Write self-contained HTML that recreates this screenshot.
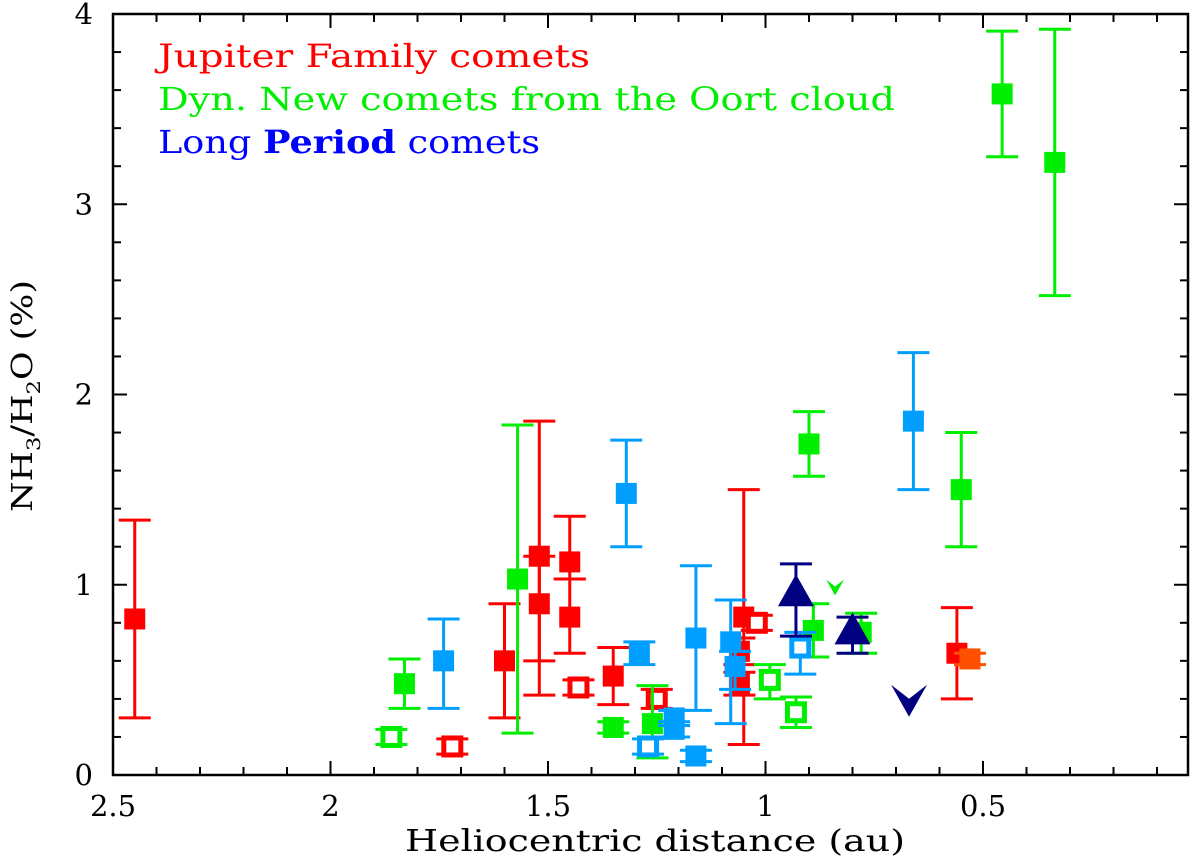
<!DOCTYPE html>
<html><head><meta charset="utf-8"><style>
html,body{margin:0;padding:0;background:#fff;}
svg{display:block;font-family:"DejaVu Serif","Liberation Serif",serif;}
</style></head><body>
<svg id="chart" width="1200" height="861" viewBox="0 0 1200 861" xmlns="http://www.w3.org/2000/svg">
<g id="marks"></g>
<rect x="113" y="14" width="1075" height="761" fill="none" stroke="#000" stroke-width="2.5"/>
<g id="ticks"></g>
<text x="405" y="851" font-size="30" textLength="500" lengthAdjust="spacingAndGlyphs">Heliocentric distance (au)</text>
<text transform="translate(32,512) rotate(-90)" font-size="29" textLength="232" lengthAdjust="spacingAndGlyphs">NH<tspan font-size="19" dy="8">3</tspan><tspan dy="-8">/H</tspan><tspan font-size="19" dy="8">2</tspan><tspan dy="-8">O (%)</tspan></text>
<text x="158" y="67" font-size="32" fill="#ff0000" textLength="432" lengthAdjust="spacingAndGlyphs">Jupiter Family comets</text>
<text x="158" y="110" font-size="32" fill="#00ee00" textLength="737" lengthAdjust="spacingAndGlyphs">Dyn. New comets from the Oort cloud</text>
<text x="158" y="153" font-size="32" fill="#0000ff" textLength="382" lengthAdjust="spacingAndGlyphs">Long <tspan font-weight="bold">Period</tspan> comets</text>
</svg>
<script>
// x: heliocentric distance (au), y: NH3/H2O (%), lo/hi: error bar ends
const redFilledX=[2.45,1.60,1.52,1.52,1.45,1.45,1.35,1.05,1.06,1.06,0.56];
const redFilledY=[0.82,0.60,1.15,0.90,1.12,0.83,0.52,0.83,0.65,0.48,0.64];
const redFilledLo=[0.30,0.30,0.60,0.42,1.03,0.64,0.37,0.16,0.58,0.42,0.40];
const redFilledHi=[1.34,0.90,1.86,1.15,1.36,1.03,0.67,1.50,0.72,0.54,0.88];
const orangeX=[0.53];const orangeY=[0.61];const orangeLo=[0.58];const orangeHi=[0.64];
const redOpenX=[1.72,1.43,1.25,1.02];
const redOpenY=[0.15,0.46,0.40,0.80];
const redOpenLo=[0.11,0.42,0.35,0.76];
const redOpenHi=[0.19,0.50,0.45,0.84];
const greenFilledX=[1.83,1.57,1.35,1.26,0.90,0.89,0.78,0.55,0.456,0.335];
const greenFilledY=[0.48,1.03,0.25,0.27,1.74,0.76,0.75,1.50,3.58,3.22];
const greenFilledLo=[0.35,0.22,0.22,0.09,1.57,0.62,0.64,1.20,3.25,2.52];
const greenFilledHi=[0.61,1.84,0.28,0.47,1.91,0.90,0.85,1.80,3.91,3.92];
const greenOpenX=[1.86,0.99,0.93];
const greenOpenY=[0.20,0.50,0.33];
const greenOpenLo=[0.16,0.40,0.25];
const greenOpenHi=[0.24,0.58,0.41];
const blueFilledX=[1.74,1.32,1.29,1.21,1.21,1.16,1.16,1.08,1.07,0.66];
const blueFilledY=[0.60,1.48,0.64,0.30,0.24,0.72,0.10,0.70,0.57,1.86];
const blueFilledLo=[0.35,1.20,0.58,0.26,0.20,0.34,0.07,0.27,0.45,1.50];
const blueFilledHi=[0.82,1.76,0.70,0.34,0.28,1.10,0.13,0.92,0.65,2.22];
const blueOpenX=[1.27,0.92];
const blueOpenY=[0.15,0.67];
const blueOpenLo=[0.11,0.53];
const blueOpenHi=[0.19,0.75];
const triX=[0.93,0.80];const triY=[0.95,0.75];const triLo=[0.73,0.64];const triHi=[1.11,0.83];
const limitX=[0.84,0.67];const limitY=[0.98,0.38];
const xTickLabels=["2.5","2","1.5","1","0.5"];const xTickVals=[2.5,2,1.5,1,0.5];
const yTickLabels=["0","1","2","3","4"];const yTickVals=[0,1,2,3,4];

const NS="http://www.w3.org/2000/svg";
function X(v){return 113+(2.5-v)*435;}
function Y(v){return 775-v*190.25;}
const marks=document.getElementById('marks');
const ticks=document.getElementById('ticks');
function mk(tag,attrs,parent){const e=document.createElementNS(NS,tag);for(const k in attrs)e.setAttribute(k,attrs[k]);parent.appendChild(e);return e;}
function errbar(x,lo,hi,col){
  const g=mk('g',{stroke:col,'stroke-width':3},marks);
  
  
  mk('line',{x1:X(x),x2:X(x),y1:Y(lo),y2:Y(hi)},g);
  mk('line',{x1:X(x)-16,x2:X(x)+16,y1:Y(lo),y2:Y(lo)},g);
  mk('line',{x1:X(x)-16,x2:X(x)+16,y1:Y(hi),y2:Y(hi)},g);
}
function squares(xs,ys,los,his,col,open,name){
  for(let i=0;i<xs.length;i++){
    errbar(xs[i],los[i],his[i],col);
    const r=open?mk('rect',{x:X(xs[i])-8.5,y:Y(ys[i])-8.5,width:17,height:17,fill:'#fff',stroke:col,'stroke-width':5},marks)
               :mk('rect',{x:X(xs[i])-10.5,y:Y(ys[i])-10.5,width:21,height:21,fill:col},marks);
    
    
  }
}
squares(redFilledX,redFilledY,redFilledLo,redFilledHi,'#ff0000',false,'jfc-point');
squares(orangeX,orangeY,orangeLo,orangeHi,'#ff5000',false,'jfc-point-orange');
squares(redOpenX,redOpenY,redOpenLo,redOpenHi,'#ff0000',true,'jfc-open-point');
squares(greenFilledX,greenFilledY,greenFilledLo,greenFilledHi,'#00ee00',false,'dnc-point');
squares(greenOpenX,greenOpenY,greenOpenLo,greenOpenHi,'#00ee00',true,'dnc-open-point');
squares(blueFilledX,blueFilledY,blueFilledLo,blueFilledHi,'#009fff',false,'lpc-point');
squares(blueOpenX,blueOpenY,blueOpenLo,blueOpenHi,'#009fff',true,'lpc-open-point');
for(let i=0;i<triX.length;i++){
  errbar(triX[i],triLo[i],triHi[i],'#000080');
  const x=X(triX[i]),y=Y(triY[i]);
  const t=mk('polygon',{points:`${x},${y-20} ${x-18},${y+12} ${x+18},${y+12}`,fill:'#000080'},marks);
  
  
}
const limCols=['#00ee00','#000080'];const limSize=[0.5,1];
for(let i=0;i<limitX.length;i++){
  const x=X(limitX[i]),y=Y(limitY[i]),s=limSize[i];
  const p=mk('polygon',{points:`${x-18*s},${y-18*s} ${x},${y+14*s} ${x+18*s},${y-18*s} ${x},${y-4*s}`,fill:limCols[i]},marks);
  
  
}
// ticks
for(let k=0;k<=24;k++){
  const v=2.5-k*0.1, x=X(v), major=(k%5===0), L=major?14:8;
  mk('line',{x1:x,x2:x,y1:775,y2:775-L,stroke:'#000','stroke-width':2},ticks);
  mk('line',{x1:x,x2:x,y1:14,y2:14+L,stroke:'#000','stroke-width':2},ticks);
}
for(let k=0;k<=20;k++){
  const v=k*0.2,y=Y(v),major=(k%5===0),L=major?14:8;
  mk('line',{x1:113,x2:113+L,y1:y,y2:y,stroke:'#000','stroke-width':2},ticks);
  mk('line',{x1:1188,x2:1188-L,y1:y,y2:y,stroke:'#000','stroke-width':2},ticks);
}
for(let i=0;i<xTickVals.length;i++){
  const t=mk('text',{x:X(xTickVals[i]),y:816,'font-size':29,'text-anchor':'middle'},ticks);
  
  
  t.textContent=xTickLabels[i];
}
for(let i=0;i<yTickVals.length;i++){
  const t=mk('text',{x:93,y:Y(yTickVals[i])+10,'font-size':29,'text-anchor':'end'},ticks);
  
  
  t.textContent=yTickLabels[i];
}
</script>
</body></html>
